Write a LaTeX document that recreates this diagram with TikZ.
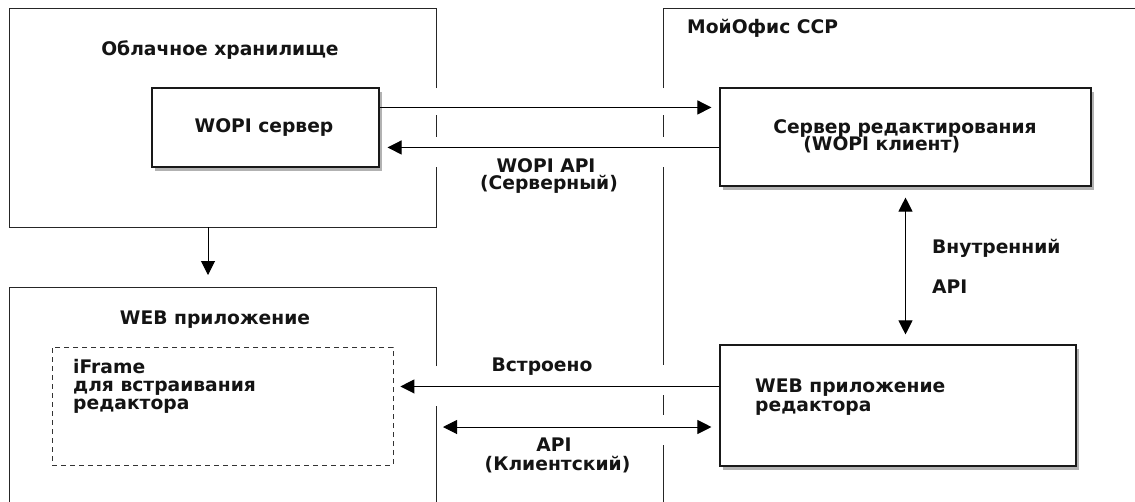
\documentclass[tikz,border=0pt]{standalone}
\usepackage{fontspec}
\setmainfont{DejaVu Sans}
\usetikzlibrary{arrows.meta,shadows,calc}
\begin{document}
\begin{tikzpicture}[x=1pt,y=-1pt,
  outer/.style={line width=1pt, draw=black!85},
  box/.style={draw=black!90, line width=1.1pt, fill=white, inner sep=0pt,
    drop shadow={shadow xshift=3pt, shadow yshift=-4pt, fill=black, opacity=0.3}},
  dbox/.style={draw=black!80, line width=0.8pt, dash pattern=on 5pt off 4pt, inner sep=0pt},
  lbl/.style={font=\bfseries\fontsize{18.7}{20}\selectfont, inner sep=0pt, text=black!92},
  arr/.style={-{Triangle[length=14pt,width=14pt]}, line width=1pt},
  darr/.style={{Triangle[length=14pt,width=14pt]}-{Triangle[length=14pt,width=14pt]}, line width=1pt}]
\path[use as bounding box, clip] (0,0) rectangle (1135,501);
\fill[white] (0,0) rectangle (1135,501);

% outer region: Облачное хранилище
\draw[outer] (436,88) -- (436,8) -- (9,8) -- (9,227) -- (436,227) -- (436,167);
\draw[outer] (436,115) -- (436,137);
\node[lbl] (cloudT) at (220,50) {Облачное хранилище};
\coordinate (cloudS) at (208,227);

% outer region: WEB приложение
\draw[outer] (436,366) -- (436,287) -- (9,287) -- (9,520);
\draw[outer] (436,406) -- (436,520);
\node[lbl] (webT) at (215,320) {WEB приложение};
\coordinate (webN) at (208,287);
\coordinate (webE) at (436,427);

% outer region: МойОфис ССР
\draw[outer] (663,88) -- (663,8) -- (1140,8);
\draw[outer] (663,115) -- (663,137);
\draw[outer] (663,167) -- (663,365);
\draw[outer] (663,395) -- (663,415);
\draw[outer] (663,445) -- (663,520);
\node[lbl, anchor=west] (moiT) at (687,28) {МойОфис ССР};

% inner boxes
\node[box, minimum width=227pt, minimum height=79pt] (wopi) at (265.5,127.5) {};
\node[lbl] (wopiT) at (264,128) {WOPI сервер};

\node[box, minimum width=371pt, minimum height=98pt] (srv) at (905.5,137) {};
\node[lbl, align=left] (srvT) at (905,136.5) {Сервер редактирования\\[-3pt]\hspace*{30pt}(WOPI клиент)};

\node[box, minimum width=356pt, minimum height=121pt] (ed) at (898,405.5) {};
\node[lbl, align=left, anchor=west] (edT) at (755,397) {WEB приложение\\[-1pt]редактора};

\node[dbox, minimum width=341pt, minimum height=118pt] (ifr) at (222.5,406) {};
\node[lbl, align=left, anchor=north west] (ifrT) at (73,359) {iFrame\\[-2pt]для встраивания\\[-2pt]редактора};

% connectors
\draw[arr, shorten >=8pt] ([yshift=-20pt]wopi.north east) -- ([yshift=-20pt]srv.north west);
\draw[arr, shorten >=8pt] ([yshift=-60pt]srv.north west) -- ([yshift=-60pt]wopi.north east);
\node[lbl, align=center] (wopiApi) at (546,176) {WOPI API\\[-3pt]\hspace*{6pt}(Серверный)};

\draw[arr, shorten >=12pt] (cloudS) -- (webN);

\draw[darr, shorten <=11pt, shorten >=10pt] (srv.south) -- (srv.south |- ed.north);
\node[lbl, anchor=west] (intT) at (932,248) {Внутренний};
\node[lbl, anchor=west] (intT2) at (932,287) {API};

\draw[arr, shorten >=7pt] ([yshift=-42pt]ed.north west) -- ($(ifr.east |- ed.north west)+(0,42)$);
\node[lbl] (embT) at (542,367) {Встроено};

\draw[darr, shorten <=7pt, shorten >=8pt] (webE) -- (webE -| ed.west);
\node[lbl, align=center] (apiT) at (554,455.5) {API\\[-1pt]\hspace*{7pt}(Клиентский)};
\end{tikzpicture}
\end{document}
